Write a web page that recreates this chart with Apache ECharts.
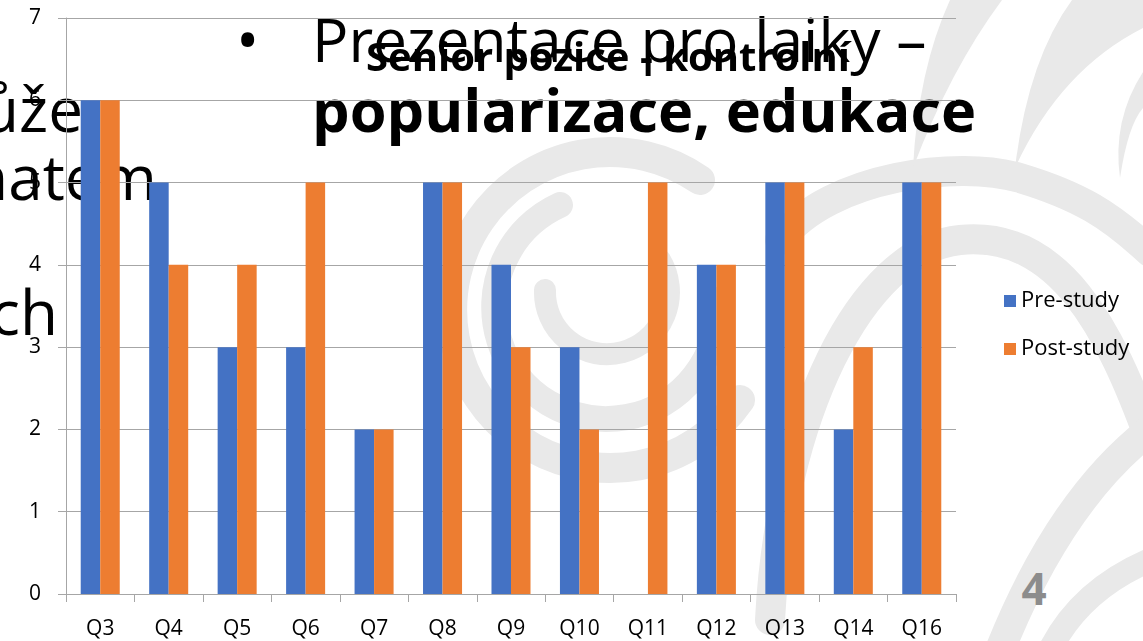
<!DOCTYPE html>
<html>
<head>
<meta charset="utf-8">
<script src="https://cdn.jsdelivr.net/npm/echarts@6/dist/echarts.min.js"></script>
<style>
html,body{margin:0;padding:0;background:#fff;}
#wrap{position:relative;width:1143px;height:641px;overflow:hidden;}
#bg{position:absolute;left:0;top:0;}
#chart{position:absolute;left:0;top:0;width:1143px;height:641px;}
</style>
</head>
<body>
<div id="wrap">
<svg id="bg" width="1143" height="641" xmlns="http://www.w3.org/2000/svg">
  <g fill="none" stroke="#e9e9e9" stroke-linecap="round">
    <path d="M 740 400 A 158 158 0 1 1 700 180" stroke-width="30"/>
    <path d="M 718 300 A 112 112 0 1 1 560 205" stroke-width="26"/>
    <path d="M 545 290 A 62 62 0 1 0 660 260" stroke-width="22"/>
    <path d="M 780 240 C 830 175 960 160 1020 178 S 1110 215 1150 252" stroke-width="30"/>
    <path d="M 770 620 C 780 420 860 250 960 240 S 1110 330 1150 440" stroke-width="30"/>
    <path d="M 1150 430 Q 1060 500 1000 650" stroke-width="30"/>
    <path d="M 1150 560 Q 1080 590 1050 650" stroke-width="24"/>
  </g>
  <g fill="#e9e9e9">
    <path d="M 950 0 L 1002 0 Q 950 70 913 168 Q 918 70 950 0 Z"/>
    <path d="M 1072 0 L 1143 0 L 1143 28 Q 1060 70 1015 168 Q 1028 60 1072 0 Z"/>
    <path d="M 1143 72 Q 1112 120 1120 178 Q 1128 125 1143 108 Z"/>
  </g>
  <g font-family="Open Sans" fill="#000">
    <text x="236" y="62" font-size="62">•</text>
    <text x="312" y="62" font-size="60.5">Prezentace pro laiky –</text>
    <text x="312" y="132" font-size="59.5" font-weight="bold">popularizace, edukace</text>
    <text x="83" y="132" font-size="62" text-anchor="end">může</text>
    <text x="157" y="200" font-size="62" text-anchor="end">tématem</text>
    <text x="58" y="335" font-size="62" text-anchor="end">ch</text>
    <text x="1034" y="605" font-size="44" font-weight="bold" fill="#8c8c8c" text-anchor="middle">4</text>
  </g>
</svg>
<div id="chart"></div>
</div>
<script>
const categories = ['Q3','Q4','Q5','Q6','Q7','Q8','Q9','Q10','Q11','Q12','Q13','Q14','Q16'];
const preStudy  = [6, 5, 3, 3, 2, 5, 4, 3, 0, 4, 5, 2, 5];
const postStudy = [6, 4, 4, 5, 2, 5, 3, 2, 5, 4, 5, 3, 5];
const seriesNames = ['Pre-study', 'Post-study'];
const chartTitle = 'Senior pozice - kontrolní';

const chart = echarts.init(document.getElementById('chart'), null, {renderer:'canvas'});
const font = 'Open Sans';
chart.setOption({
  animation: false,
  backgroundColor: 'transparent',
  title: {
    text: chartTitle,
    left: 603, textAlign: 'center',
    top: 35,
    textStyle: {fontFamily: font, fontWeight: 'bold', fontSize: 40, color: '#000'}
  },
  legend: {
    orient: 'vertical',
    left: 999, top: 285,
    itemWidth: 12, itemHeight: 12, itemGap: 26,
    icon: 'rect',
    data: seriesNames,
    textStyle: {fontFamily: font, fontSize: 22, color: '#000'}
  },
  grid: {left: 66, right: 187, top: 18, bottom: 47, containLabel: false},
  xAxis: {
    type: 'category',
    data: categories,
    axisLine: {show: true, lineStyle: {color: '#a6a6a6', width: 1}},
    axisTick: {show: true, length: 8, alignWithLabel: false, lineStyle: {color: '#a6a6a6'}},
    axisLabel: {fontFamily: font, fontSize: 21, color: '#000', margin: 25, interval: 0}
  },
  yAxis: {
    type: 'value',
    min: 0, max: 7, interval: 1,
    axisLine: {show: true, lineStyle: {color: '#a6a6a6', width: 1}},
    axisTick: {show: true, length: 8, lineStyle: {color: '#a6a6a6'}},
    splitLine: {show: true, lineStyle: {color: '#a6a6a6', width: 1}},
    axisLabel: {fontFamily: font, fontSize: 21, color: '#000', margin: 25}
  },
  series: [
    {name: seriesNames[0], type: 'bar', data: preStudy, itemStyle: {color: '#4472C4'}, barGap: '0%', barCategoryGap: '43%'},
    {name: seriesNames[1], type: 'bar', data: postStudy, itemStyle: {color: '#ED7D31'}, barGap: '0%', barCategoryGap: '43%'}
  ]
});
</script>
</body>
</html>
